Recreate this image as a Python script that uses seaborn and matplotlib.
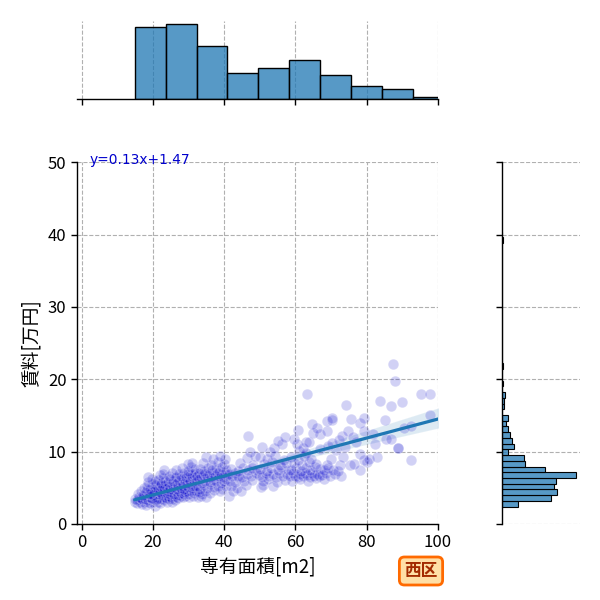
import numpy as np
import pandas as pd
import matplotlib
matplotlib.use("Agg")
import matplotlib.pyplot as plt
import seaborn as sns

# ---- data ----
area = [
    14.8, 15.5, 16.2, 16.8, 17.4, 18.0, 18.6, 19.2, 19.9, 20.5, 21.3, 22.0,
    15.0, 15.6, 16.0, 16.5, 17.0, 17.3, 17.8, 18.2, 18.5, 18.9, 19.3, 19.6, 20.0,
    20.3, 20.6, 20.9, 21.2, 21.5, 21.8, 22.1, 22.4, 22.7, 23.0, 23.3, 19.8, 21.0,
    15.8, 16.6, 17.2, 17.9, 18.4, 18.8, 19.4, 19.7, 20.1, 20.4, 20.8, 21.1, 21.4,
    21.7, 22.0, 22.3, 22.6, 22.9, 23.2, 20.2, 21.9, 19.0,
    17.5, 18.3, 19.1, 19.8, 20.4, 20.9, 21.3, 21.8, 22.2, 22.5, 22.8, 23.1, 23.4,
    18.5, 19.6, 20.5, 21.4, 22.1, 22.7, 23.3, 18.7, 21.9, 22.9, 23.0,
    24.0, 25.3, 23.6, 24.1, 24.5, 24.9, 25.4, 25.8, 26.2, 26.7, 27.1, 27.8, 28.4,
    29.0, 30.0, 31.2,
    23.8, 24.3, 24.7, 25.1, 25.6, 26.0, 26.4, 26.9, 27.3, 27.7, 28.1, 28.6, 29.1,
    29.6, 30.1, 30.6, 31.1, 31.6, 32.0,
    23.9, 24.4, 24.8, 25.2, 25.7, 26.1, 26.6, 27.0, 27.5, 27.9, 28.3, 28.8, 29.3,
    29.8, 30.3, 30.8, 31.3, 31.8,
    24.2, 24.8, 25.5, 26.1, 26.8, 27.4, 28.0, 28.5, 29.0, 29.5, 30.0, 30.5, 31.0,
    31.5, 32.0,
    24.6, 25.4, 26.3, 27.2, 27.9, 28.7, 29.2, 29.8, 30.4, 30.9, 31.4, 31.9, 26.5,
    28.2, 29.7, 30.7, 31.7, 29.9, 31.0,
    32.5, 33.4, 34.8, 32.8, 33.7, 34.6, 35.9, 37.2, 38.8,
    32.6, 33.3, 34.2, 35.1, 36.0, 37.0, 38.1, 39.3, 40.5,
    32.4, 33.0, 33.8, 34.5, 35.3, 36.1, 36.8, 37.6, 38.4, 39.1, 39.8, 40.6,
    32.3, 32.9, 33.5, 34.1, 34.7, 35.2, 35.8, 36.4, 36.9, 37.5, 38.0, 38.6, 39.2,
    39.7, 40.2, 40.8,
    33.2, 34.4, 35.5, 36.6, 37.6, 38.5, 39.5, 40.4, 34.0, 36.2, 38.2, 40.0, 35.0,
    36.9, 40.1, 38.9,
    41.2, 42.5, 44.8, 41.8, 43.5, 46.0, 41.5, 42.9, 44.2, 45.6, 47.9, 41.4, 42.2,
    43.0, 44.0, 45.1, 46.3, 47.4, 48.8, 42.0, 43.8, 45.3, 46.7, 47.8, 49.2, 44.5,
    48.1, 46.4, 48.5, 47.2, 46.8,
    50.3, 51.0, 53.6, 50.8, 52.4, 54.9, 57.1, 49.8, 50.5, 51.6, 52.7, 53.8, 54.6,
    55.5, 56.4, 57.6, 50.1, 51.9, 53.1, 55.0, 56.0, 57.8, 51.3, 53.4, 55.8, 57.4,
    50.1, 52.1, 54.3, 56.7, 52.8, 50.6, 53.9, 56.2, 55.2, 57.1,
    59.0, 61.2, 63.5, 65.8, 58.5, 59.3, 60.0, 60.6, 61.4, 62.0, 62.7, 63.3, 64.0,
    64.6, 65.3, 66.0, 66.6, 58.8, 60.3, 61.7, 62.9, 64.2, 65.5, 66.8, 59.6, 61.9,
    63.8, 65.9, 58.9, 60.8, 62.4, 64.5, 61.1, 63.0, 60.4, 62.2, 66.9, 62.9, 63.9,
    59.5, 66.9, 64.9, 60.7, 66.2, 64.8, 63.2,
    68.0, 67.5, 68.6, 69.7, 71.0, 72.8, 67.9, 69.2, 70.6, 72.1, 68.9, 72.6, 75.4,
    70.0, 73.5, 71.4, 69.1, 74.0, 70.2, 72.3, 73.0, 68.8, 74.9, 68.8, 70.2, 70.4,
    75.5, 74.3,
    78.2, 76.5, 80.0, 79.3, 80.8, 83.0, 78.2, 82.4, 77.0, 76.3, 81.7, 79.3, 78.2,
    79.2, 83.8,
    92.5, 88.9, 88.9, 85.4, 86.8, 90.4, 92.5, 85.2, 87.0, 90.1, 88.0, 87.4,
    95.3, 97.9, 97.9, 118.0,
]
rent = [
    3.0, 2.9, 3.1, 2.8, 3.0, 2.6, 3.1, 2.9, 3.0, 2.5, 3.1, 2.9,
    3.5, 3.3, 3.8, 3.6, 3.4, 3.9, 3.5, 3.7, 3.3, 3.8, 3.6, 3.4, 3.9,
    3.5, 3.7, 3.3, 3.8, 3.6, 3.4, 3.9, 3.5, 3.7, 3.3, 3.8, 3.6, 3.5,
    4.2, 4.5, 4.0, 4.4, 4.7, 4.1, 4.3, 4.6, 4.0, 4.4, 4.7, 4.2, 4.5,
    4.1, 4.6, 4.3, 4.0, 4.5, 4.2, 4.5, 4.4, 4.2,
    5.0, 5.3, 4.9, 5.5, 5.1, 5.4, 4.9, 5.2, 5.5, 5.0, 5.3, 4.9, 5.4,
    5.8, 6.2, 5.9, 6.1, 5.7, 6.3, 5.9, 6.5, 6.8, 6.9, 7.5,
    3.1, 3.0, 3.6, 3.9, 3.4, 3.7, 3.5, 3.9, 3.3, 3.8, 3.6, 3.9, 3.7,
    3.9, 3.8, 3.9,
    4.3, 4.6, 4.1, 4.4, 4.7, 4.2, 4.5, 4.0, 4.6, 4.3, 4.7, 4.1, 4.4,
    4.6, 4.2, 4.5, 4.7, 4.3, 4.6,
    5.0, 5.3, 4.9, 5.5, 5.1, 5.4, 4.9, 5.2, 5.5, 5.0, 5.3, 4.9, 5.4,
    5.1, 5.5, 5.0, 5.3, 5.2,
    5.8, 6.2, 5.9, 6.3, 5.7, 6.1, 5.8, 6.3, 6.0, 5.7, 6.2, 5.9, 6.3,
    5.8, 6.1,
    6.6, 7.0, 6.5, 6.9, 6.7, 7.1, 6.5, 6.9, 7.1, 6.6, 6.8, 7.0, 7.5,
    7.8, 7.3, 7.9, 7.6, 8.3, 8.5,
    3.8, 3.9, 3.7, 4.4, 4.1, 4.6, 4.3, 4.7, 4.5,
    5.2, 4.9, 5.4, 5.0, 5.5, 5.1, 5.3, 4.9, 5.2,
    5.9, 6.2, 5.7, 6.0, 6.3, 5.8, 6.1, 5.9, 6.3, 5.7, 6.0, 6.2,
    6.6, 7.0, 6.5, 6.8, 7.1, 6.6, 6.9, 6.5, 7.0, 6.7, 7.1, 6.6, 6.9,
    6.5, 7.0, 6.8,
    7.6, 7.3, 7.8, 7.4, 7.7, 7.3, 7.9, 7.5, 8.4, 8.2, 8.6, 8.3, 9.3,
    9.0, 9.0, 9.4,
    3.9, 4.6, 4.5, 5.3, 5.0, 5.4, 6.0, 5.8, 6.3, 5.9, 6.1, 6.9, 6.6,
    7.0, 6.7, 6.5, 6.9, 6.6, 7.0, 7.6, 7.3, 7.8, 7.4, 7.7, 7.5, 8.5,
    8.2, 9.1, 9.4, 10.0, 12.1,
    5.1, 5.4, 5.3, 5.9, 6.2, 5.8, 6.1, 6.8, 6.5, 7.0, 6.7, 6.9, 6.5,
    7.1, 6.7, 6.9, 7.6, 7.3, 7.8, 7.5, 7.9, 7.4, 8.3, 8.6, 8.1, 8.5,
    9.3, 9.0, 9.4, 8.9, 9.9, 10.7, 10.5, 11.0, 11.5, 12.0,
    6.0, 6.2, 5.9, 6.3, 6.6, 7.0, 6.7, 6.5, 6.9, 6.6, 7.1, 6.8, 6.5,
    7.0, 6.7, 6.9, 6.6, 7.5, 7.8, 7.3, 7.7, 7.4, 7.9, 7.6, 8.4, 8.1,
    8.6, 8.3, 9.2, 8.9, 9.4, 9.0, 10.1, 9.8, 11.0, 10.5, 10.4, 11.3, 11.4,
    11.7, 12.5, 12.6, 13.0, 13.3, 13.8, 18.0,
    6.2, 6.8, 7.0, 6.6, 6.9, 6.7, 7.4, 7.8, 7.5, 7.3, 8.2, 8.1, 8.1,
    9.0, 9.3, 10.2, 10.8, 10.6, 11.2, 11.6, 12.2, 12.9, 12.8, 14.2, 14.4, 14.6,
    14.5, 16.5,
    7.5, 8.3, 8.6, 8.9, 9.0, 9.2, 9.7, 11.0, 11.3, 12.0, 12.5, 12.8, 13.9,
    14.7, 17.0,
    8.9, 10.5, 10.5, 11.8, 11.8, 13.3, 13.5, 14.4, 16.3, 16.8, 19.7, 22.1,
    18.0, 18.0, 15.0, 39.5,
]
x_ticks = [0, 20, 40, 60, 80, 100]
y_ticks = [0, 10, 20, 30, 40, 50]
x_label = "専有面積[m2]"
y_label = "賃料[万円]"
fit_text = "y=0.13x+1.47"
ward = "西区"

sns.set_theme(style="ticks")
plt.rcParams['font.family'] = ['Noto Sans CJK JP', 'DejaVu Sans']

df = pd.DataFrame({"area": area, "rent": rent})

g = sns.JointGrid(data=df, x="area", y="rent", height=6)
fig = g.figure
fig.set_dpi(100)

ax = g.ax_joint
axx = g.ax_marg_x
axy = g.ax_marg_y

sns.scatterplot(data=df, x="area", y="rent", ax=ax, color="mediumblue",
                alpha=0.18, s=58, edgecolor="white", linewidth=0.9, zorder=2)
sns.regplot(data=df, x="area", y="rent", ax=ax, scatter=False,
            color="#1f77b4", line_kws={"lw": 2.3, "zorder": 5}, seed=0)

xbins = 14.8 + 8.7 * np.arange(14)
ybins = 2.4 + 0.792 * np.arange(49)
sns.histplot(data=df, x="area", ax=axx, bins=xbins, color="#1f77b4",
             edgecolor="black", linewidth=1)
sns.histplot(data=df, y="rent", ax=axy, bins=ybins, color="#1f77b4",
             edgecolor="black", linewidth=0.8)

ax.set_xlim(-1.4, 100)
ax.set_ylim(0, 50)
ax.set_xticks(x_ticks)
ax.set_yticks(y_ticks)

grid_kw = dict(color="#b0b0b0", linestyle="--", linewidth=0.8)
ax.grid(True, **grid_kw)
axx.grid(True, axis="x", **grid_kw)
axy.grid(True, axis="y", **grid_kw)

for a in (ax, axx, axy):
    a.tick_params(length=4, width=1, colors="black", labelsize=12)
    for s in a.spines.values():
        s.set_linewidth(1.0)
        s.set_color("black")

ax.set_xlabel(x_label, fontsize=13.5, color="black")
ax.set_ylabel(y_label, fontsize=13.5, color="black")
axx.set_xlabel("")
axx.set_ylabel("")
axy.set_xlabel("")
axy.set_ylabel("")

ax.text(2, 50.3, fit_text, color="mediumblue", fontsize=9.9, va="center",
        family="DejaVu Sans")

ax.set_position([77 / 600, 76 / 600, 360.7 / 600, 361.7 / 600])
axx.set_position([77 / 600, 500.7 / 600, 360.7 / 600, 78.8 / 600])
axy.set_position([501.7 / 600, 76 / 600, 78.3 / 600, 361.7 / 600])

fig.text(421 / 600, 1 - 571 / 600, ward, ha="center", va="center",
         fontsize=12, fontweight="bold", color="#a32a00",
         bbox=dict(boxstyle="round,pad=0.3", fc="#ffdfa6", ec="#ff6a00", lw=2))

fig.savefig("out.png", dpi=100)
